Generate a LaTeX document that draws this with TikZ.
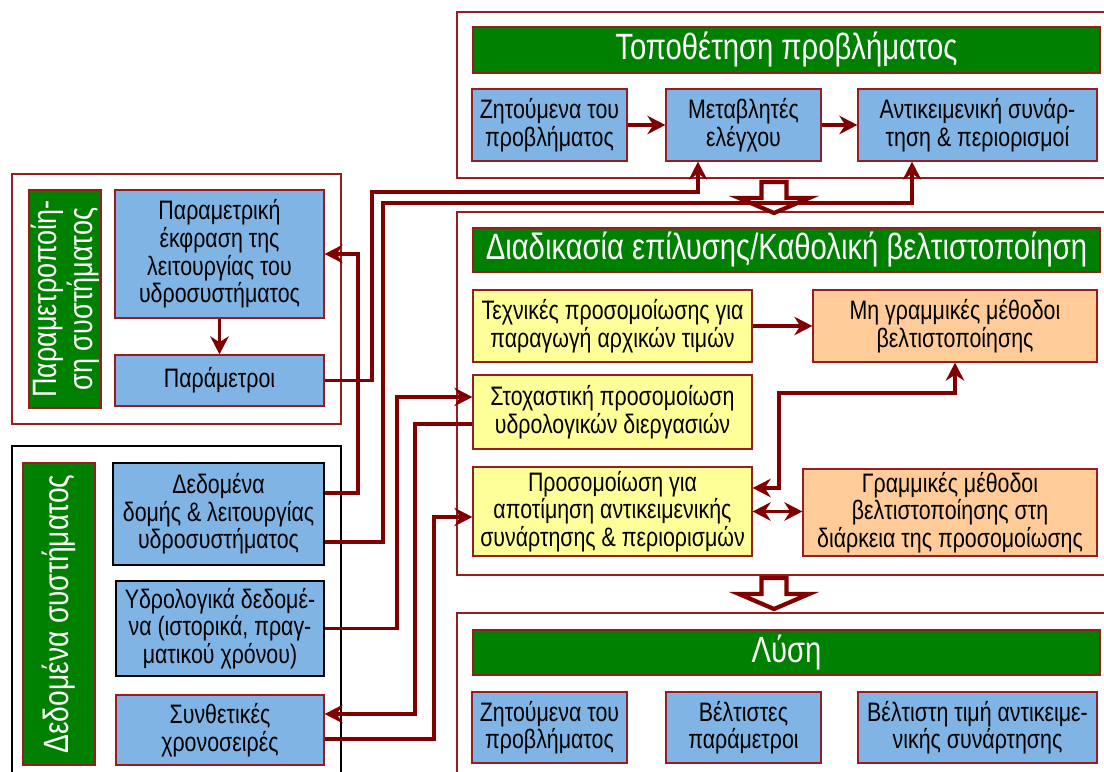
\documentclass[tikz,border=0pt]{standalone}
\usepackage{fontspec}
\setmainfont[FakeStretch=0.8]{Liberation Sans}
\usetikzlibrary{arrows.meta,calc}
\definecolor{wire}{RGB}{128,0,0}
\definecolor{edge}{RGB}{150,30,30}
\definecolor{boxblue}{RGB}{128,180,228}
\definecolor{boxyellow}{RGB}{255,255,153}
\definecolor{boxorange}{RGB}{255,204,153}
\definecolor{bargreen}{RGB}{0,128,0}

\begin{document}
\begin{tikzpicture}[
		box/.style={draw=edge,line width=0.9pt,align=center,inner sep=1pt,font=\fontsize{19}{19.6}\selectfont},
		bluebox/.style={box,fill=boxblue},
		yellowbox/.style={box,fill=boxyellow},
		orangebox/.style={box,fill=boxorange},
		titlebar/.style={draw=edge,line width=0.9pt,fill=bargreen,text=white,align=center,inner sep=1pt,font=\fontsize{26}{28}\selectfont},
		panel/.style={draw=edge,line width=1pt},
		wire/.style={draw=wire,line width=2.8pt},
		hollow/.style={draw=wire,fill=white,line width=3pt},
		>={Stealth[length=4.5mm,width=4.6mm]}
	]
		\clip (0,0) rectangle (27.6,-19.275);
		
		\draw[panel] (0.3,-4.35) rectangle (8.525,-10.6);
		\draw[line width=1pt] (0.3,-19.5) -- (0.3,-11.15) -- (8.525,-11.15) -- (8.525,-19.5);
		\draw[panel] (27.8,-0.3) -- (11.425,-0.3) -- (11.425,-4.45) -- (27.8,-4.45);
		\draw[panel] (27.8,-5.3) -- (11.425,-5.3) -- (11.425,-14.375) -- (27.8,-14.375);
		\draw[panel] (27.8,-15.325) -- (11.425,-15.325) -- (11.425,-19.5);
		
		\node[titlebar,rotate=90,minimum width=5.45cm,minimum height=1.8cm,font=\fontsize{24}{25.5}\selectfont] (paramlabel) at (1.625,-7.475) {Παραμετροποίη-\\ση συστήματος};
		\node[bluebox,minimum width=5.225cm,minimum height=3.2cm] (paramexpr) at (5.4875,-6.35) {Παραμετρική\\έκφραση της\\λειτουργίας του\\υδροσυστήματος};
		\node[bluebox,minimum width=5.225cm,minimum height=1.275cm] (params) at (5.4875,-9.5125) {Παράμετροι};
		
		\node[titlebar,rotate=90,minimum width=7.55cm,minimum height=1.8cm,font=\fontsize{25}{28}\selectfont] (datalabel) at (1.475,-15.35) {Δεδομένα συστήματος};
		\node[bluebox,draw=black,minimum width=5.275cm,minimum height=2.55cm] (structdata) at (5.4625,-12.85) {Δεδομένα\\δομής \& λειτουργίας\\υδροσυστήματος};
		\node[bluebox,draw=black,minimum width=5.2cm,minimum height=2.375cm] (hydrodata) at (5.5,-15.7125) {Υδρολογικά δεδομέ-\\να (ιστορικά, πραγ-\\ματικού χρόνου)};
		\node[bluebox,minimum width=5.2cm,minimum height=1.75cm] (synth) at (5.5,-18.25) {Συνθετικές\\χρονοσειρές};
		
		\node[titlebar,minimum width=15.675cm,minimum height=1.15cm] (posetitle) at (19.6625,-1.25) {Τοποθέτηση προβλήματος};
		\node[bluebox,minimum width=3.875cm,minimum height=1.8cm] (goal) at (13.7375,-3.125) {Ζητούμενα του\\προβλήματος};
		\node[bluebox,minimum width=3.875cm,minimum height=1.8cm] (ctrlvar) at (18.5875,-3.125) {Μεταβλητές\\ελέγχου};
		\node[bluebox,minimum width=5.975cm,minimum height=1.8cm] (objfun) at (24.4375,-3.125) {Αντικειμενική συνάρ-\\τηση \& περιορισμοί};
		
		\node[titlebar,minimum width=15.675cm,minimum height=1.1cm] (solvetitle) at (19.6625,-6.25) {Διαδικασία επίλυσης/Καθολική βελτιστοποίηση};
		\node[yellowbox,minimum width=6.975cm,minimum height=1.8cm] (initval) at (15.3125,-8.15) {Τεχνικές προσομοίωσης για\\παραγωγή αρχικών τιμών};
		\node[orangebox,minimum width=7.1cm,minimum height=1.8cm] (nonlin) at (23.875,-8.15) {Μη γραμμικές μέθοδοι\\βελτιστοποίησης};
		\node[yellowbox,minimum width=6.975cm,minimum height=1.85cm] (stochsim) at (15.3125,-10.3) {Στοχαστική προσομοίωση\\υδρολογικών διεργασιών};
		\node[yellowbox,minimum width=6.975cm,minimum height=2.225cm] (evalsim) at (15.3125,-12.7875) {Προσομοίωση για\\αποτίμηση αντικειμενικής\\συνάρτησης \& περιορισμών};
		\node[orangebox,minimum width=7.35cm,minimum height=2.175cm] (linear) at (23.75,-12.8125) {Γραμμικές μέθοδοι\\βελτιστοποίησης στη\\διάρκεια της προσομοίωσης};
		
		\node[titlebar,minimum width=15.675cm,minimum height=1.125cm] (soltitle) at (19.6625,-16.3125) {Λύση};
		\node[bluebox,minimum width=3.875cm,minimum height=1.775cm] (goalout) at (13.7375,-18.1875) {Ζητούμενα του\\προβλήματος};
		\node[bluebox,minimum width=3.875cm,minimum height=1.775cm] (bestpar) at (18.5875,-18.1875) {Βέλτιστες\\παράμετροι};
		\node[bluebox,minimum width=5.975cm,minimum height=1.775cm] (bestobj) at (24.4375,-18.1875) {Βέλτιστη τιμή αντικειμε-\\νικής συνάρτησης};
		
		\foreach \ytop in {-4.55,-14.45}
			\draw[hollow] (19.0375,\ytop) -- ++(0,-0.4) -- ++(-0.5625,0) -- ++(0.875,-0.375) -- ++(0.875,0.375) -- ++(-0.5625,0) -- ++(0,0.4) -- cycle;
		
		\draw[wire,->] (paramexpr.south) -- (params.north);
		\draw[wire,->] (goal.east) -- (ctrlvar.west);
		\draw[wire,->] (ctrlvar.east) -- (objfun.west);
		\draw[wire,->] (initval.east) -- (initval.east -| nonlin.west);
		\draw[wire,<->] ([yshift=0.5875cm]evalsim.east) -- ++(0.65,0) |- ($(nonlin.south)+(0,-0.75)$) -- (nonlin.south);
		\draw[wire,<->] (evalsim.east) -- (evalsim.east -| linear.west);
		
		\draw[wire,->] (params.east) -| (9.3,-4.8) -| ([xshift=-1.1375cm]ctrlvar.south);
		\draw[wire,->] ([yshift=-0.7cm]structdata.east) -| (9.575,-5.075) -| ([xshift=-1.6375cm]objfun.south);
		\draw[wire,->] ([yshift=0.525cm]structdata.east) -- ++(0.825,0) |- (paramexpr.east);
		\draw[wire,->] (hydrodata.east) -| ([xshift=-1.875cm,yshift=0.375cm]stochsim.west) -- ([yshift=0.375cm]stochsim.west);
		\draw[wire,->] ([yshift=-0.3cm]stochsim.west) -| ([xshift=2.25cm,yshift=0.4cm]synth.east) -- ([yshift=0.4cm]synth.east);
		\draw[wire,->] ([yshift=-0.225cm]synth.east) -| ([xshift=-0.95cm,yshift=-0.1375cm]evalsim.west) -- ([yshift=-0.1375cm]evalsim.west);
\end{tikzpicture}
\end{document}
